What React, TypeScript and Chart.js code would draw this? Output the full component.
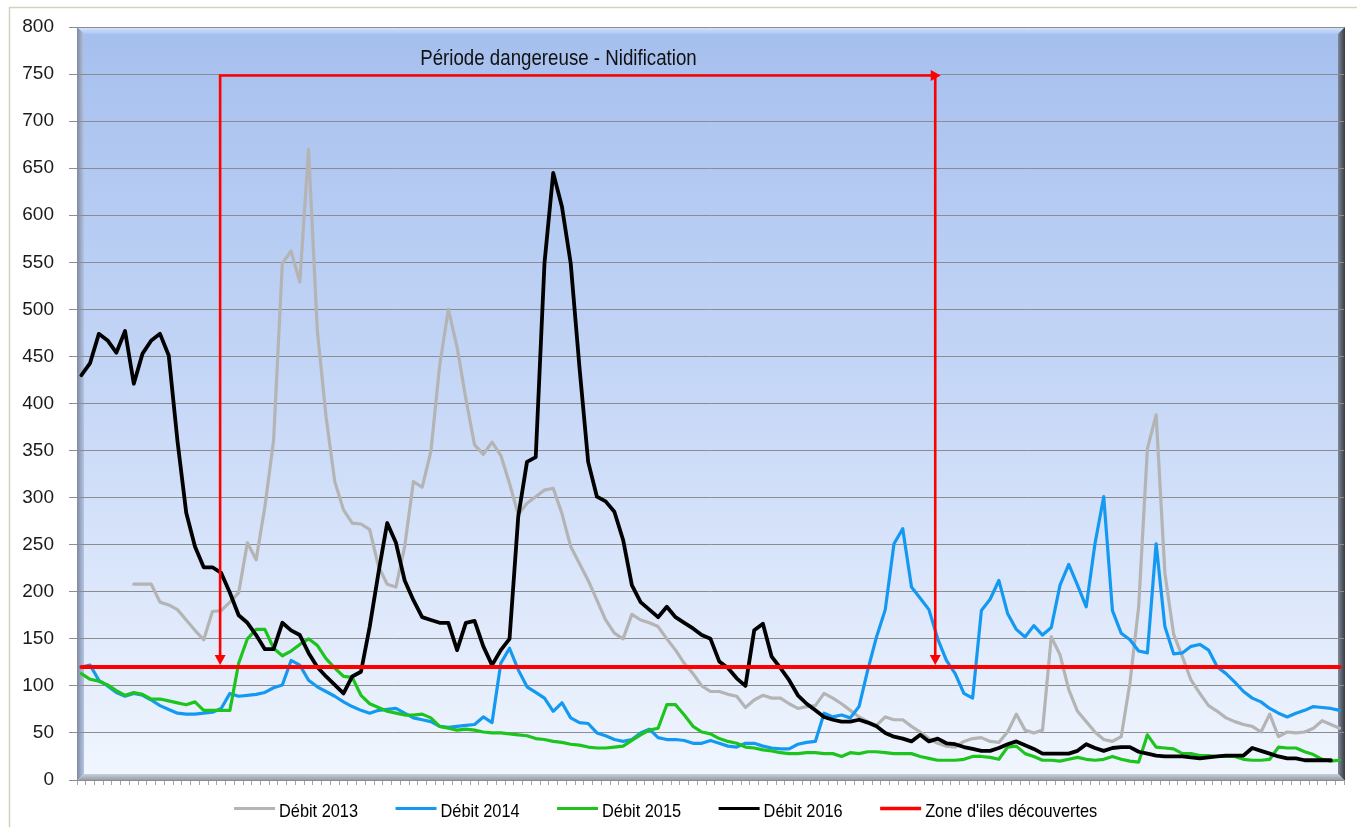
import React, { useEffect, useRef } from 'react';
import { Chart, registerables } from 'chart.js';

Chart.register(...registerables);

// ---------- data ----------
const DAYS: string[] = Array.from({ length: 145 }, (_, i) => `J${i + 1}`);

const Y_MIN = 0;
const Y_MAX = 800;
const Y_STEP = 50;

const DEBIT_2013: (number | null)[] = [
  null, null, null, null, null, null, 208, 208, 208, 189,
  186, 181, 170, 159, 149, 179, 180, 189, 199, 252,
  234, 290, 361, 549, 562, 529, 670, 478, 386, 317,
  287, 273, 272, 266, 227, 208, 205, 248, 317, 311,
  349, 440, 500, 460, 405, 356, 346, 359, 345, 315,
  282, 294, 301, 308, 310, 283, 248, 230, 212, 191,
  170, 156, 150, 176, 170, 167, 163, 150, 138, 124,
  113, 100, 94, 94, 91, 89, 77, 85, 90, 87,
  87, 81, 76, 78, 79, 92, 87, 81, 74, 67,
  62, 58, 67, 64, 64, 57, 51, 44, 39, 36,
  35, 41, 44, 45, 41, 40, 51, 70, 53, 50,
  53, 152, 133, 96, 73, 62, 51, 43, 41, 46,
  103, 184, 352, 388, 220, 155, 131, 106, 92, 79,
  73, 66, 62, 59, 57, 51, 70, 46, 51, 50,
  51, 55, 63, 59, 55,
];

const DEBIT_2014: number[] = [
  120, 122, 106, 100, 93, 89, 92, 90, 85, 79,
  75, 71, 70, 70, 71, 72, 76, 92, 89, 90,
  91, 93, 98, 101, 127, 122, 106, 99, 94, 89,
  83, 78, 74, 71, 74, 75, 76, 71, 66, 64,
  62, 57, 56, 57, 58, 59, 67, 61, 124, 140,
  117, 99, 93, 87, 73, 82, 66, 61, 60, 50,
  47, 43, 41, 43, 50, 54, 45, 43, 43, 42,
  39, 39, 42, 39, 36, 35, 39, 39, 36, 34,
  33, 33, 38, 40, 41, 71, 67, 69, 66, 78,
  117, 152, 181, 251, 267, 205, 193, 181, 150, 127,
  113, 92, 87, 180, 192, 212, 177, 160, 152, 164,
  154, 162, 207, 229, 207, 184, 251, 301, 180, 156,
  149, 137, 135, 251, 163, 134, 135, 142, 144, 138,
  120, 113, 104, 94, 87, 83, 76, 71, 67, 71,
  74, 78, 77, 76, 74,
];

const DEBIT_2015: number[] = [
  113, 107, 105, 101, 95, 90, 93, 91, 86, 86,
  84, 82, 80, 83, 74, 74, 74, 74, 124, 150,
  160, 160, 140, 132, 137, 144, 150, 143, 129, 119,
  110, 109, 90, 81, 77, 73, 71, 69, 69, 70,
  66, 57, 55, 53, 54, 53, 51, 50, 50, 49,
  48, 47, 44, 43, 41, 40, 38, 37, 35, 34,
  34, 35, 36, 42, 48, 53, 55, 80, 80, 69,
  57, 51, 49, 44, 41, 39, 35, 34, 32, 31,
  29, 28, 28, 29, 29, 28, 28, 25, 29, 28,
  30, 30, 29, 28, 28, 28, 25, 23, 21, 21,
  21, 22, 25, 25, 24, 22, 35, 36, 28, 25,
  21, 21, 20, 22, 24, 22, 21, 22, 25, 22,
  20, 19, 48, 35, 34, 33, 28, 28, 26, 26,
  25, 25, 25, 22, 21, 21, 22, 35, 34, 34,
  30, 27, 22, 20, 21,
];

const DEBIT_2016: (number | null)[] = [
  430, 443, 474, 467, 454, 477, 421, 453, 467, 474,
  451, 360, 284, 248, 226, 226, 220, 199, 175, 167,
  154, 139, 139, 167, 159, 154, 135, 120, 110, 101,
  92, 110, 115, 163, 220, 273, 252, 212, 191, 173,
  170, 167, 167, 138, 167, 169, 142, 122, 138, 150,
  280, 338, 343, 549, 645, 609, 549, 439, 338, 301,
  296, 285, 255, 207, 189, 181, 173, 184, 173, 167,
  161, 154, 150, 126, 119, 108, 100, 159, 166, 131,
  119, 106, 90, 81, 74, 67, 64, 62, 62, 64,
  61, 57, 50, 46, 44, 41, 48, 41, 44, 39,
  38, 35, 33, 31, 31, 34, 38, 41, 37, 33,
  28, 28, 28, 28, 31, 38, 34, 31, 34, 35,
  35, 30, 28, 26, 25, 25, 25, 24, 23, 24,
  25, 26, 26, 26, 34, 31, 28, 25, 23, 23,
  21, 21, 21, 21, null,
];

const ZONE_THRESHOLD = 120;
const ZONE_ILES: number[] = DAYS.map(() => ZONE_THRESHOLD);

const SERIES_LABELS = ['Débit 2013', 'Débit 2014', 'Débit 2015', 'Débit 2016', "Zone d'iles découvertes"];
const SERIES_COLORS = ['#b4b4b4', '#1499f2', '#1ec41e', '#000000', '#ff0000'];

// annotation (data units)
const NEST_TITLE = 'Période dangereuse - Nidification';
const NEST_START = 15.88;
const NEST_END = 97.72;
const NEST_ARROW_TIP = 98.35;
const NEST_TOP = 748.5;
const TITLE_X = 54.6;
const TITLE_Y = 760;

// ---------- layout constants ----------
const W = 1357;
const H = 827;
const FONT = '"Liberation Sans", Arial, "DejaVu Sans", sans-serif';
const LEGEND_LEFT = 234;
const LEGEND_LINE_Y = 808.5;
const LEGEND_TEXT_Y = 817;

const backgroundPlugin = {
  id: 'excelBackground',
  beforeDraw(chart: any) {
    const { ctx, chartArea: a } = chart;
    ctx.save();
    ctx.fillStyle = '#ffffff';
    ctx.fillRect(0, 0, W, H);
    // outer frame
    ctx.strokeStyle = '#d5d1c1';
    ctx.lineWidth = 1.5;
    ctx.beginPath();
    ctx.moveTo(9.5, H + 5);
    ctx.lineTo(9.5, 7.5);
    ctx.lineTo(W + 5, 7.5);
    ctx.stroke();

    const L = a.left, T = a.top, R = a.right + 1, B = a.bottom + 1;
    const b = 7;
    const g = ctx.createLinearGradient(0, T, 0, B);
    g.addColorStop(0, '#a5bfee');
    g.addColorStop(0.5, '#c7d8f7');
    g.addColorStop(1, '#f1f6fe');
    ctx.fillStyle = g;
    ctx.fillRect(L, T, R - L, B - T);

    // top bevel
    let gg = ctx.createLinearGradient(0, T, 0, T + b);
    gg.addColorStop(0, '#d7e7fc');
    gg.addColorStop(1, '#adc6f1');
    ctx.fillStyle = gg;
    ctx.beginPath();
    ctx.moveTo(L, T); ctx.lineTo(R, T); ctx.lineTo(R - b, T + b); ctx.lineTo(L + b, T + b); ctx.closePath();
    ctx.fill();
    // left bevel
    gg = ctx.createLinearGradient(L, 0, L + b, 0);
    gg.addColorStop(0, '#7f8aa0');
    gg.addColorStop(1, '#b4c5e4');
    ctx.fillStyle = gg;
    ctx.beginPath();
    ctx.moveTo(L, T); ctx.lineTo(L + b, T + b); ctx.lineTo(L + b, B - b); ctx.lineTo(L, B); ctx.closePath();
    ctx.fill();
    // right bevel
    gg = ctx.createLinearGradient(R - b, 0, R, 0);
    gg.addColorStop(0, '#808896');
    gg.addColorStop(1, '#353b46');
    ctx.fillStyle = gg;
    ctx.beginPath();
    ctx.moveTo(R, T); ctx.lineTo(R - b, T + b); ctx.lineTo(R - b, B - b); ctx.lineTo(R, B); ctx.closePath();
    ctx.fill();
    // bottom bevel
    gg = ctx.createLinearGradient(0, B - b, 0, B);
    gg.addColorStop(0, '#c9cfd8');
    gg.addColorStop(1, '#8e95a0');
    ctx.fillStyle = gg;
    ctx.beginPath();
    ctx.moveTo(L, B); ctx.lineTo(L + b, B - b); ctx.lineTo(R - b, B - b); ctx.lineTo(R, B); ctx.closePath();
    ctx.fill();
    ctx.restore();
  },
};

function arrowHead(ctx: CanvasRenderingContext2D, tx: number, ty: number, dir: 'down' | 'right') {
  const len = 10, half = 5.5;
  ctx.beginPath();
  if (dir === 'down') {
    ctx.moveTo(tx, ty);
    ctx.lineTo(tx - half, ty - len);
    ctx.lineTo(tx + half, ty - len);
  } else {
    ctx.moveTo(tx, ty);
    ctx.lineTo(tx - len, ty - half);
    ctx.lineTo(tx - len, ty + half);
  }
  ctx.closePath();
  ctx.fill();
}

const annotationPlugin = {
  id: 'nidification',
  afterDatasetsDraw(chart: any) {
    const { ctx } = chart;
    const xs = chart.scales.x, ys = chart.scales.y;
    const x1 = xs.getPixelForValue(NEST_START);
    const x2 = xs.getPixelForValue(NEST_END);
    const xt = xs.getPixelForValue(NEST_ARROW_TIP);
    const yTop = ys.getPixelForValue(NEST_TOP);
    const yTip = ys.getPixelForValue(ZONE_THRESHOLD) - 2;
    ctx.save();
    ctx.strokeStyle = '#ff0000';
    ctx.fillStyle = '#ff0000';
    ctx.lineWidth = 2.6;
    ctx.lineCap = 'butt';
    ctx.beginPath();
    ctx.moveTo(x1, yTip - 8); ctx.lineTo(x1, yTop - 1.3);
    ctx.moveTo(x1 - 1.3, yTop); ctx.lineTo(xt - 8, yTop);
    ctx.moveTo(x2, yTop); ctx.lineTo(x2, yTip - 8);
    ctx.stroke();
    arrowHead(ctx, x1, yTip, 'down');
    arrowHead(ctx, x2, yTip, 'down');
    arrowHead(ctx, xt, yTop, 'right');

    // title text
    const cx = xs.getPixelForValue(TITLE_X);
    const by = ys.getPixelForValue(TITLE_Y);
    ctx.translate(cx, by);
    ctx.scale(0.85, 1);
    ctx.font = `22px ${FONT}`;
    ctx.fillStyle = '#111111';
    ctx.textAlign = 'center';
    ctx.textBaseline = 'alphabetic';
    ctx.fillText(NEST_TITLE, 0, 0);
    ctx.restore();
  },
};

const legendPlugin = {
  id: 'bottomLegend',
  afterDraw(chart: any) {
    const { ctx } = chart;
    ctx.save();
    ctx.font = `19px ${FONT}`;
    ctx.textBaseline = 'alphabetic';
    ctx.textAlign = 'left';
    let cx = LEGEND_LEFT;
    const sx = 0.86;
    chart.data.datasets.forEach((ds: any) => {
      ctx.strokeStyle = ds.borderColor;
      ctx.lineWidth = ds.borderWidth >= 4 ? 3.6 : 3;
      ctx.lineCap = 'butt';
      ctx.beginPath();
      ctx.moveTo(cx, LEGEND_LINE_Y);
      ctx.lineTo(cx + 41, LEGEND_LINE_Y);
      ctx.stroke();
      cx += 45;
      const w = ctx.measureText(ds.label).width * sx;
      ctx.save();
      ctx.translate(cx, LEGEND_TEXT_Y);
      ctx.scale(sx, 1);
      ctx.fillStyle = '#000000';
      ctx.fillText(ds.label, 0, 0);
      ctx.restore();
      cx += w + 37.5;
    });
    ctx.restore();
  },
};

export default function App() {
  const ref = useRef<HTMLCanvasElement | null>(null);

  useEffect(() => {
    document.body.style.margin = '0';
    document.body.style.overflow = 'hidden';
    const canvas = ref.current;
    if (!canvas) return;
    const seriesData = [DEBIT_2013, DEBIT_2014, DEBIT_2015, DEBIT_2016, ZONE_ILES];
    const drawOrder = [4, 3, 2, 1, 0];
    const widths = [3.2, 3.2, 3.2, 3.8, 4];
    const chart = new Chart(canvas, {
      type: 'line',
      data: {
        labels: DAYS,
        datasets: seriesData.map((d, i) => ({
          label: SERIES_LABELS[i],
          data: d,
          borderColor: SERIES_COLORS[i],
          backgroundColor: SERIES_COLORS[i],
          borderWidth: widths[i],
          pointRadius: 0,
          pointHoverRadius: 0,
          tension: 0,
          fill: false,
          spanGaps: false,
          borderJoinStyle: 'round' as const,
          borderCapStyle: 'round' as const,
          order: drawOrder[i],
        })),
      },
      options: {
        animation: false,
        responsive: false,
        devicePixelRatio: 1,
        events: [],
        layout: { padding: { left: 0, top: 27, right: 13, bottom: 0 } },
        plugins: {
          legend: { display: false },
          title: { display: false },
          tooltip: { enabled: false },
        },
        scales: {
          x: {
            type: 'category',
            offset: true,
            border: { display: false },
            grid: {
              offset: true,
              drawOnChartArea: false,
              drawTicks: true,
              tickLength: 5,
              color: '#a3a3a3',
            },
            ticks: { display: false },
            afterFit(scale: any) {
              scale.height = 47;
            },
          },
          y: {
            type: 'linear',
            min: Y_MIN,
            max: Y_MAX,
            border: { display: false },
            grid: {
              color: '#8a8c90',
              lineWidth: 1,
              drawTicks: true,
              tickLength: 8,
            },
            ticks: {
              stepSize: Y_STEP,
              padding: 15,
              color: '#1a1a1a',
              font: { family: FONT, size: 19 },
            },
            afterFit(scale: any) {
              scale.width = 77;
            },
          },
        },
      },
      plugins: [backgroundPlugin, annotationPlugin, legendPlugin],
    } as any);
    return () => chart.destroy();
  }, []);

  return (
    <canvas
      ref={ref}
      width={W}
      height={H}
      style={{ display: 'block', width: W, height: H }}
    />
  );
}
